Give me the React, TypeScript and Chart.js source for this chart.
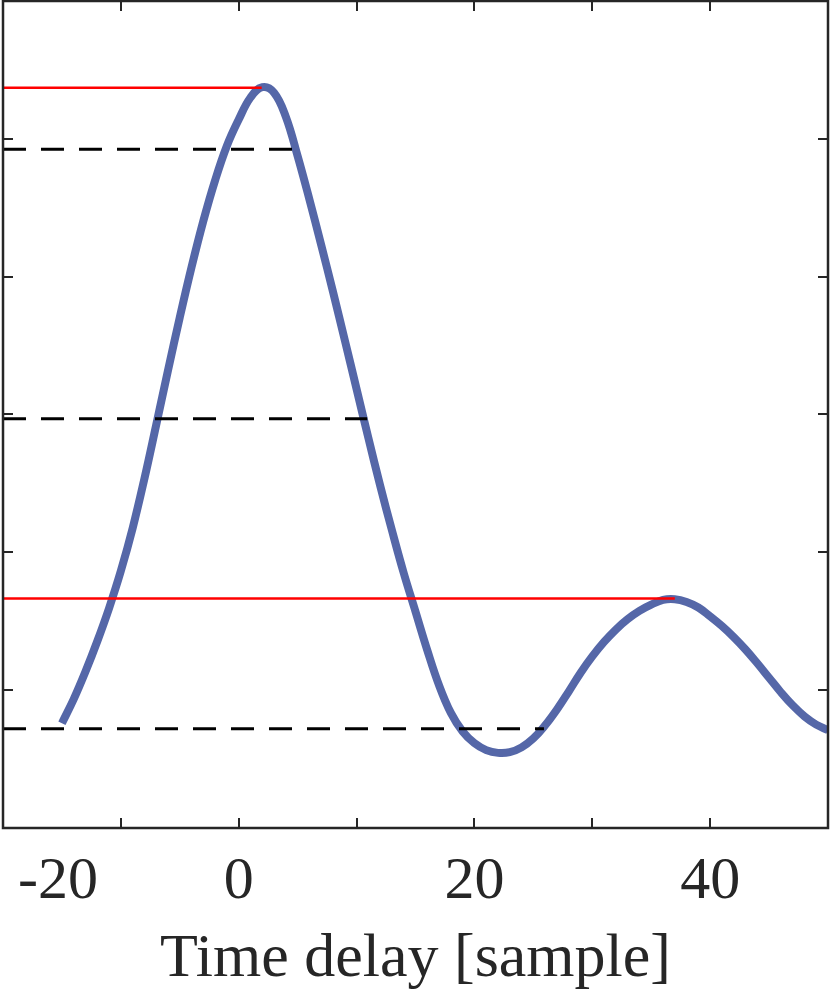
import { useEffect, useRef } from 'react';
import { Chart, registerables } from 'chart.js';

Chart.register(...registerables);

// ---- data ----
const lags = [
  -15, -14, -13, -12, -11, -10, -9, -8, -7, -6, -5, -4, -3, -2, -1, 0, 1, 2, 3, 4, 5, 6, 7, 8, 9, 10,
  11, 12, 13, 14, 15, 16, 17, 18, 19, 20, 21, 22, 23, 24, 25, 26, 27, 28, 29, 30, 31, 32, 33, 34, 35,
  36, 37, 38, 39, 40, 41, 42, 43, 44, 45, 46, 47, 48, 49, 50,
];
const correlation = [
  -0.048, -0.013, 0.027, 0.071, 0.119, 0.173, 0.235, 0.307, 0.385, 0.464, 0.541, 0.614, 0.681,
  0.74, 0.79, 0.828, 0.86, 0.875, 0.867, 0.832, 0.775, 0.712, 0.646, 0.578, 0.508, 0.437, 0.366,
  0.297, 0.232, 0.17, 0.114, 0.058, 0.007, -0.033, -0.06, -0.077, -0.087, -0.091, -0.09, -0.083,
  -0.07, -0.051, -0.028, -0.002, 0.025, 0.049, 0.07, 0.088, 0.103, 0.115, 0.124, 0.131, 0.132,
  0.128, 0.12, 0.107, 0.093, 0.077, 0.059, 0.039, 0.018, -0.003, -0.022, -0.038, -0.05, -0.058,
];
const peakLevels = [0.874, 0.133];
const peakLags = [1.95, 37.0];
const dashLevels = [0.785, 0.394, -0.056];
const dashEndLags = [4.6, 10.9, 25.9];

const xTickValues = [-20, -10, 0, 10, 20, 30, 40, 50];
const xLabelValues = [-20, 0, 20, 40];
const xLabelTexts = ['-20', '0', '20', '40'];
const yTickValues = [0, 0.2, 0.4, 0.6, 0.8];
const X_MIN = -20;
const X_MAX = 50;
const Y_MIN = -0.2;
const Y_MAX = 1.0;
const xTitle = 'Time delay [sample]';

const FONT = '"Liberation Serif", "Times New Roman", serif';
const AXIS_COLOR = '#262626';

const framePlugin = {
  id: 'matlabFrame',
  afterDatasetsDraw(chart: any) {
    const { ctx, chartArea: a, scales } = chart;
    const xs = scales.x;
    const ys = scales.y;
    const tl = 10;
    ctx.save();
    ctx.strokeStyle = AXIS_COLOR;
    ctx.lineWidth = 2;
    ctx.beginPath();
    for (const v of xTickValues) {
      const px = Math.round(xs.getPixelForValue(v));
      ctx.moveTo(px, a.bottom);
      ctx.lineTo(px, a.bottom - tl);
      ctx.moveTo(px, a.top);
      ctx.lineTo(px, a.top + tl);
    }
    for (const v of yTickValues) {
      const py = Math.round(ys.getPixelForValue(v));
      ctx.moveTo(a.left, py);
      ctx.lineTo(a.left + tl, py);
      ctx.moveTo(a.right, py);
      ctx.lineTo(a.right - tl, py);
    }
    ctx.stroke();
    ctx.lineWidth = 2.5;
    ctx.strokeRect(a.left, a.top, a.right - a.left, a.bottom - a.top);
    ctx.restore();
  },
};

export default function App() {
  const canvasRef = useRef<HTMLCanvasElement | null>(null);

  useEffect(() => {
    document.body.style.margin = '0';
    const canvas = canvasRef.current;
    if (!canvas) return;

    const datasets: any[] = [
      {
        data: lags.map((x, i) => ({ x, y: correlation[i] })),
        borderColor: '#5567a8',
        borderWidth: 8,
        pointRadius: 0,
        tension: 0.4,
        order: 10,
      },
      ...peakLevels.map((lv, i) => ({
        data: [
          { x: X_MIN, y: lv },
          { x: peakLags[i], y: lv },
        ],
        borderColor: '#ff0000',
        borderWidth: 2.5,
        pointRadius: 0,
        order: 1,
      })),
      ...dashLevels.map((lv, i) => ({
        data: [
          { x: X_MIN, y: lv },
          { x: dashEndLags[i], y: lv },
        ],
        borderColor: '#000000',
        borderWidth: 3,
        borderDash: [23, 15],
        pointRadius: 0,
        order: 1,
      })),
    ];

    const chart = new Chart(canvas, {
      type: 'line',
      data: { datasets },
      plugins: [framePlugin],
      options: {
        responsive: false,
        animation: false,
        layout: { padding: { left: 3, right: 2, top: 1, bottom: 0 } },
        plugins: {
          legend: { display: false },
          tooltip: { enabled: false },
        },
        scales: {
          x: {
            type: 'linear',
            min: X_MIN,
            max: X_MAX,
            grid: { display: false, drawTicks: false },
            border: { display: false },
            ticks: {
              stepSize: 10,
              autoSkip: false,
              maxRotation: 0,
              align: 'inner',
              padding: 18,
              color: AXIS_COLOR,
              font: { family: FONT, size: 60 },
              callback: (value: any, index: number) => {
                const k = xLabelValues.indexOf(Number(value));
                if (k < 0) return '';
                return index === 0 ? ' ' + xLabelTexts[k] : xLabelTexts[k];
              },
            },
            title: {
              display: true,
              text: xTitle,
              color: AXIS_COLOR,
              font: { family: FONT, size: 62 },
              padding: { top: 0, bottom: 0 },
            },
            afterFit: (scale: any) => {
              scale.height = 169;
              scale.paddingLeft = 0;
              scale.paddingRight = 0;
            },
          },
          y: {
            type: 'linear',
            min: Y_MIN,
            max: Y_MAX,
            display: false,
          },
        },
      } as any,
    });

    return () => {
      chart.destroy();
    };
  }, []);

  return (
    <div style={{ width: 830, height: 997, background: '#ffffff' }}>
      <canvas ref={canvasRef} width={830} height={997} style={{ display: 'block' }} />
    </div>
  );
}
